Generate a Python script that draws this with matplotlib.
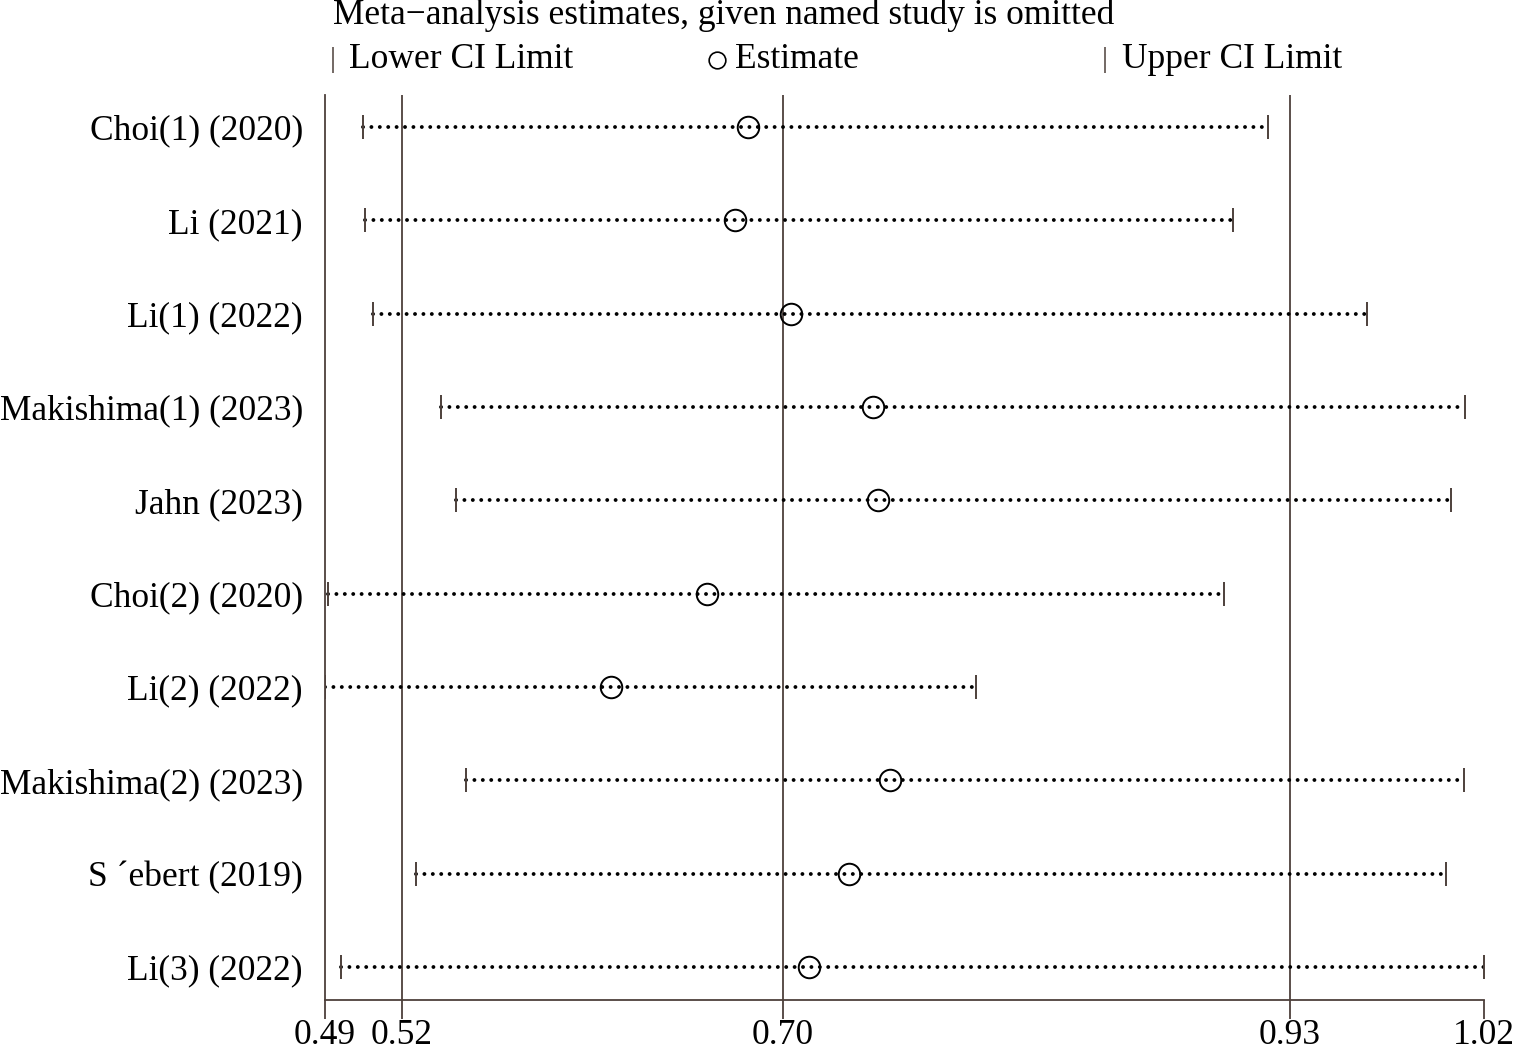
import matplotlib
matplotlib.use("Agg")
import matplotlib.pyplot as plt
from matplotlib.lines import Line2D

# leave-one-out meta-analysis estimates
studies = ["Choi(1) (2020)", "Li (2021)", "Li(1) (2022)", "Makishima(1) (2023)",
           "Jahn (2023)", "Choi(2) (2020)", "Li(2) (2022)", "Makishima(2) (2023)",
           "S \u00b4ebert (2019)", "Li(3) (2022)"]
estimate = [0.6822, 0.6763, 0.7023, 0.7404, 0.7427, 0.6633, 0.6188, 0.7483, 0.7292, 0.7107]
lower_ci = [0.5035, 0.5046, 0.5083, 0.5398, 0.5468, 0.4874, 0.4860, 0.5514, 0.5282, 0.4934]
upper_ci = [0.9237, 0.9075, 0.9697, 1.0152, 1.0087, 0.9033, 0.7882, 1.0147, 1.0064, 1.0240]

# overall estimate and its CI (reference lines)
overall = [0.5217, 0.6986, 0.9339]
tick_vals = [min(lower_ci), 0.5217, 0.6986, 0.9339, max(upper_ci)]
tick_labels = ["0.49", "0.52", "0.70", "0.93", "1.02"]

plt.rcParams["font.family"] = ["Liberation Serif", "DejaVu Serif"]
FS = 25.5
line_c = "#4d403b"

W, H = 1524, 1051
fig = plt.figure(figsize=(W / 100, H / 100), dpi=100)
ax = fig.add_axes([325 / W, 1 - 1000 / H, (1484 - 325) / W, (1000 - 95) / H])

ys = list(range(1, len(studies) + 1))
for v in overall:
    ax.axvline(v, color=line_c, lw=1.3, zorder=1)

for y, lo, est, up in zip(ys, lower_ci, estimate, upper_ci):
    ax.plot([lo, up], [y, y], color="black", lw=2.8, ls=(0, (0.01, 2.15)),
            dash_capstyle="round", zorder=2)
    ax.plot([lo, up], [y, y], ls="none", marker="|", ms=17, mew=1.4,
            color=line_c, zorder=3)
    ax.plot([est], [y], ls="none", marker="o", ms=15.5, mfc="none",
            mec="black", mew=1.4, zorder=4)

ax.set_xlim(min(lower_ci), max(upper_ci))
ax.set_ylim(10 + 33 / 93.33, 1 - 32 / 93.33)
ax.set_yticks(ys)
ax.set_yticklabels(studies, fontsize=FS)
ax.tick_params(axis="y", length=0, pad=16)
ax.set_xticks(tick_vals)
ax.set_xticklabels(tick_labels, fontsize=FS)
ax.tick_params(axis="x", length=14, width=1.3, color=line_c, pad=0)
for s in ["top", "right"]:
    ax.spines[s].set_visible(False)
for s in ["left", "bottom"]:
    ax.spines[s].set_color(line_c)
    ax.spines[s].set_linewidth(1.3)

# title and legend row above the plot
fig.text(333 / W, 1 - 15 / H, "Meta\u2212analysis estimates, given named study is omitted",
         fontsize=FS, ha="left", va="center")
ly = 1 - 60 / H
fig.add_artist(Line2D([333 / W], [ly], marker="|", ms=19, mew=1.1, color=line_c,
                      transform=fig.transFigure))
fig.text(349 / W, ly, "Lower CI Limit", fontsize=FS, ha="left", va="center")
fig.add_artist(Line2D([717 / W], [ly], marker="o", ms=12, mfc="none", mec="black",
                      mew=1.2, transform=fig.transFigure))
fig.text(735 / W, ly, "Estimate", fontsize=FS, ha="left", va="center")
fig.add_artist(Line2D([1105 / W], [ly], marker="|", ms=19, mew=1.1, color=line_c,
                      transform=fig.transFigure))
fig.text(1122 / W, ly, "Upper CI Limit", fontsize=FS, ha="left", va="center")

fig.savefig("out.png", dpi=100)
